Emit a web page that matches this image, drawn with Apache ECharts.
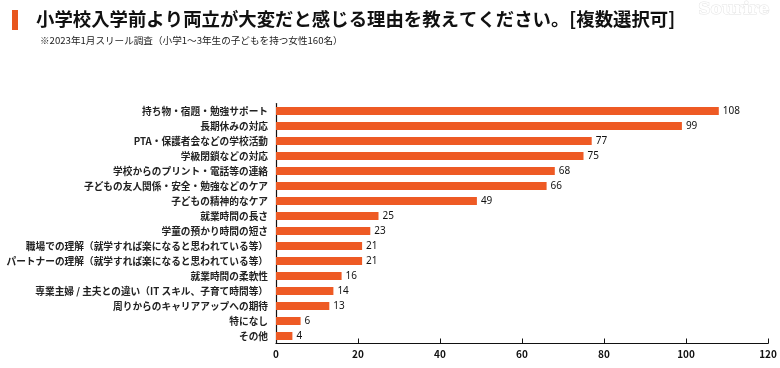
<!DOCTYPE html>
<html><head><meta charset="utf-8">
<script src="https://cdn.jsdelivr.net/npm/echarts@6/dist/echarts.min.js"></script>
<style>html,body{margin:0;padding:0;background:#fff}#c{width:780px;height:368px}</style>
</head><body><div id="c"></div>
<script>
const titleText = '小学校入学前より両立が大変だと感じる理由を教えてください。[複数選択可]';
const subtitleText = '※2023年1月スリール調査（小学1～3年生の子どもを持つ女性160名）';
const categories = [
  '持ち物・宿題・勉強サポート',
  '長期休みの対応',
  'PTA・保護者会などの学校活動',
  '学級閉鎖などの対応',
  '学校からのプリント・電話等の連絡',
  '子どもの友人関係・安全・勉強などのケア',
  '子どもの精神的なケア',
  '就業時間の長さ',
  '学童の預かり時間の短さ',
  '職場での理解（就学すれば楽になると思われている等）',
  'パートナーの理解（就学すれば楽になると思われている等）',
  '就業時間の柔軟性',
  '専業主婦 / 主夫との違い（IT スキル、子育て時間等）',
  '周りからのキャリアアップへの期待',
  '特になし',
  'その他'
];
const values = [108, 99, 77, 75, 68, 66, 49, 25, 23, 21, 21, 16, 14, 13, 6, 4];
const xTicks = [0, 20, 40, 60, 80, 100, 120];

const font = '"Noto Sans CJK JP", "Noto Sans", sans-serif';
const chart = echarts.init(document.getElementById('c'), null, {renderer: 'canvas'});
chart.setOption({
  animation: false,
  textStyle: {fontFamily: font},
  graphic: [
    {type: 'rect', shape: {x: 12, y: 10, width: 6, height: 20}, style: {fill: '#E8561E'}},
    {type: 'text', left: 36, top: 10, style: {text: titleText, font: 'bold 18.4px ' + font, fill: '#111'}},
    {type: 'text', left: 40, top: 36, style: {text: subtitleText, font: '9.6px ' + font, fill: '#222'}},
    {type: 'text', right: 10, top: 1, style: {text: 'Sourire', font: 'bold 17px "DejaVu Serif", serif', fill: '#fff', stroke: '#e4e4e4', lineWidth: 1}}
  ],
  grid: {left: 276, right: 12, top: 103.5, bottom: 24.5, containLabel: false, outerBoundsMode: 'none'},
  xAxis: {
    type: 'value', min: 0, max: 120, interval: 20,
    axisLine: {show: true, lineStyle: {color: '#111', width: 1.2}},
    axisTick: {show: true, inside: true, length: 5, lineStyle: {color: '#111'}},
    splitLine: {show: false},
    axisLabel: {color: '#111', fontSize: 10, fontWeight: 'bold', margin: 6,
      formatter: v => xTicks.includes(v) ? String(v) : ''}
  },
  yAxis: {
    type: 'category', data: categories, inverse: true,
    axisLine: {show: true, lineStyle: {color: '#111', width: 1.2}},
    axisTick: {show: false},
    axisLabel: {color: '#222', fontSize: 9.7, fontWeight: 'bold', margin: 8}
  },
  series: [{
    type: 'bar', data: values, barWidth: 8,
    itemStyle: {color: '#EE5A24'},
    label: {show: true, position: 'right', distance: 4, color: '#111', fontSize: 10, fontFamily: '"Noto Sans", sans-serif'}
  }]
});
</script></body></html>
